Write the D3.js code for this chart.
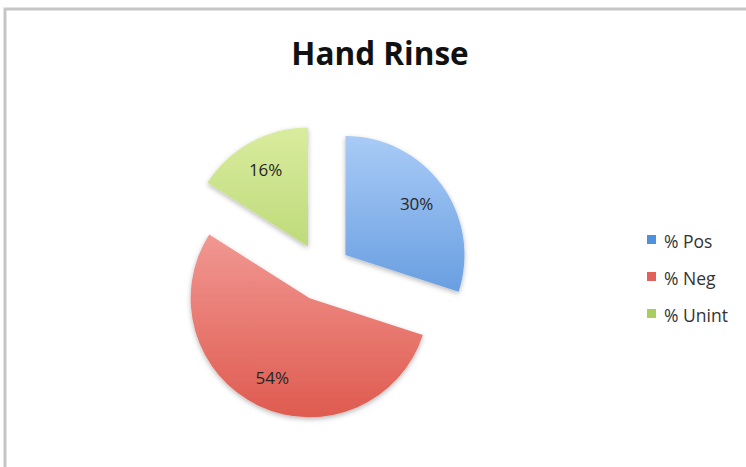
<!DOCTYPE html>
<html>
<head>
<meta charset="utf-8">
<script src="https://cdn.jsdelivr.net/npm/d3@7"></script>
<style>
  html, body { margin: 0; padding: 0; background: #fff; }
  svg { display: block; }
</style>
</head>
<body>
<svg id="chart" width="746" height="467"></svg>
<script>
// Chart data
const categories = ["% Pos", "% Neg", "% Unint"];
const values = [30, 54, 16];
const labels = ["30%", "54%", "16%"];
const title = "Hand Rinse";

// Gradient stops per slice (top colour, bottom colour)
const topColors = ["#a9cbf6", "#f6aaa6", "#d9ec9e"];
const bottomColors = ["#4787d6", "#df5b50", "#a4c957"];
const legendColors = ["#4f8fdc", "#e2615a", "#a9cd5f"];

const svg = d3.select("#chart");
const W = 746, H = 467;
const font = "'Open Sans', Lato, sans-serif";

// frame around the chart area
svg.append("rect")
  .attr("x", 5).attr("y", 9)
  .attr("width", W + 20).attr("height", H + 20)
  .attr("fill", "#fff")
  .attr("stroke", "#c6c6c6")
  .attr("stroke-width", 3);

const defs = svg.append("defs");
const shadow = defs.append("filter").attr("id", "shadow")
  .attr("x", "-20%").attr("y", "-20%").attr("width", "140%").attr("height", "140%");
shadow.append("feDropShadow")
  .attr("dx", 0).attr("dy", 2).attr("stdDeviation", 2.5)
  .attr("flood-color", "#000").attr("flood-opacity", 0.28);

const cx = 322, cy = 272, r = 119, explode = 29, labelR = 88;

const pie = d3.pie().sort(null).value(d => d)(values);
const arc = d3.arc().innerRadius(0).outerRadius(r);

pie.forEach((p, i) => {
  const mid = (p.startAngle + p.endAngle) / 2;
  const ox = explode * Math.sin(mid), oy = -explode * Math.cos(mid);
  const sx = cx + ox, sy = cy + oy;
  const gradId = "grad" + i;
  const gr = defs.append("linearGradient").attr("id", gradId)
    .attr("gradientUnits", "userSpaceOnUse")
    .attr("x1", 0).attr("y1", -r).attr("x2", 0).attr("y2", r);
  gr.append("stop").attr("offset", "0%").attr("stop-color", topColors[i]);
  gr.append("stop").attr("offset", "100%").attr("stop-color", bottomColors[i]);

  const sg = svg.append("g").attr("transform", `translate(${sx},${sy})`);
  sg.append("path")
    .attr("d", arc(p))
    .attr("fill", `url(#${gradId})`)
    .attr("filter", "url(#shadow)");

  sg.append("text")
    .attr("x", labelR * Math.sin(mid))
    .attr("y", -labelR * Math.cos(mid))
    .attr("text-anchor", "middle")
    .attr("dominant-baseline", "central")
    .attr("font-family", font)
    .attr("font-size", 17)
    .attr("fill", "#262626")
    .text(labels[i]);
});

// title
svg.append("text")
  .attr("x", 380).attr("y", 65)
  .attr("text-anchor", "middle")
  .attr("font-family", font)
  .attr("font-weight", "bold")
  .attr("font-size", 31.5)
  .attr("fill", "#111")
  .text(title);

// legend
const leg = svg.append("g");
categories.forEach((c, i) => {
  const y = 240 + i * 37;
  leg.append("rect")
    .attr("x", 647).attr("y", y - 5)
    .attr("width", 9).attr("height", 9)
    .attr("fill", legendColors[i]);
  leg.append("text")
    .attr("x", 664).attr("y", y + 1)
    .attr("dominant-baseline", "central")
    .attr("font-family", font)
    .attr("font-size", 17.5)
    .attr("fill", "#333")
    .text(c);
});
</script>
</body>
</html>
